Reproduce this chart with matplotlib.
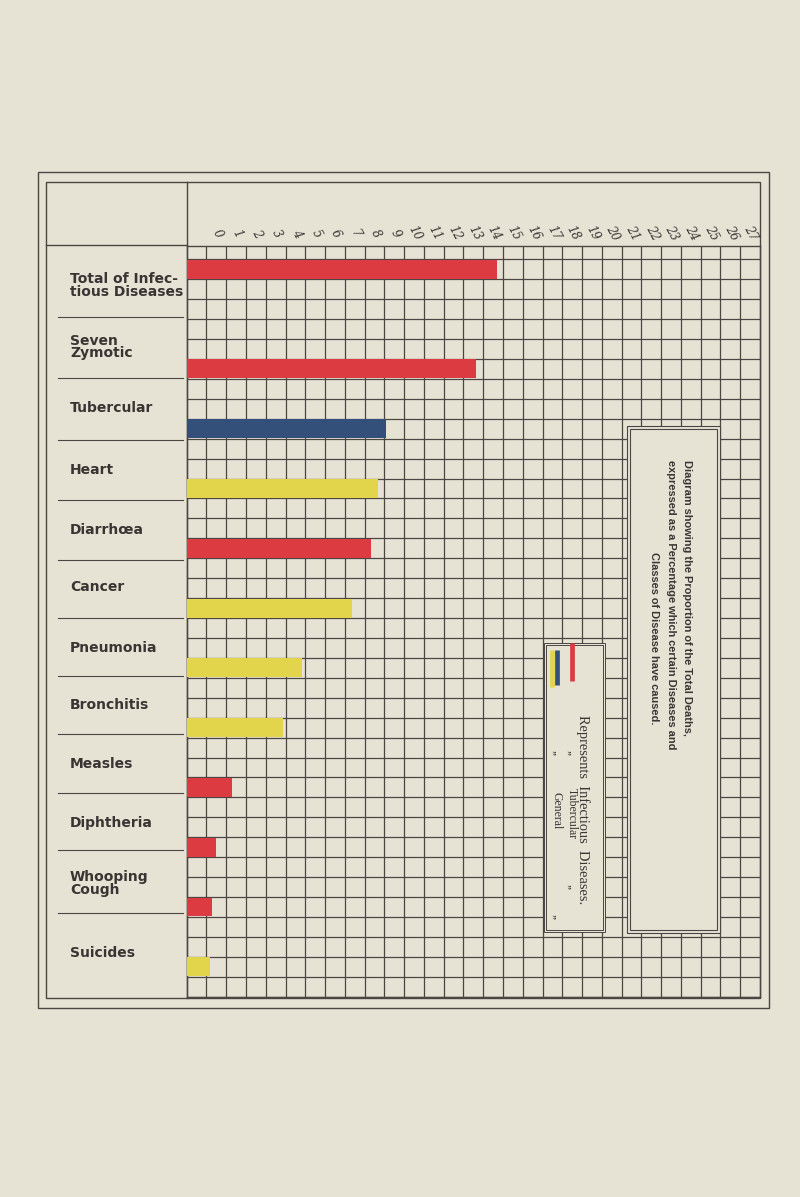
import numpy as np
import matplotlib
matplotlib.use('Agg')
import matplotlib.pyplot as plt
import matplotlib.transforms as mtransforms
from matplotlib.patches import Rectangle

# data (bar length in grid squares from the left edge)
categories = ['Total of Infec-\ntious Diseases', 'Seven\nZymotic', 'Tubercular', 'Heart',
              'Diarrhœa', 'Cancer', 'Pneumonia', 'Bronchitis', 'Measles', 'Diphtheria',
              'Whooping\nCough', 'Suicides']
bar_len = [15.70, 14.63, 10.10, 9.69, 9.31, 8.38, 5.82, 4.89, 2.31, 1.48, 1.26, 1.18]
classes = ['infectious', 'infectious', 'tubercular', 'general', 'infectious', 'general',
           'general', 'general', 'infectious', 'infectious', 'infectious', 'general']
tick_labels = [str(i) for i in range(28)]

# layout (grid rows counted from the bottom)
bar_rows = [36, 31, 28, 25, 22, 19, 16, 13, 10, 7, 4, 1]
label_y = [35.68, 32.6, 29.55, 26.43, 23.42, 20.54, 17.48, 14.64, 11.68, 8.7, 5.69, 2.18]
dividers = [34.1, 31.06, 27.93, 24.92, 21.9, 18.99, 16.09, 13.18, 10.24, 7.36, 4.21]

colors = {'infectious': '#dc3b41', 'tubercular': '#33507a', 'general': '#e2d54c'}
paper = '#e6e2d4'
ink = '#3a3533'
line = '#4b4643'

W, H = 800, 1197
fig = plt.figure(figsize=(8, 11.97), dpi=100, facecolor=paper)

# background axes in pixel coords for the frame
bg = fig.add_axes([0, 0, 1, 1])
bg.set_xlim(0, W)
bg.set_ylim(H, 0)
bg.axis('off')
bg.add_patch(Rectangle((38, 172), 731, 836, fill=False, ec=line, lw=1.0))
bg.add_patch(Rectangle((46, 182), 714, 816, fill=False, ec=line, lw=1.0))
bg.plot([186.7, 186.7], [182, 998], color=line, lw=1.0)
bg.plot([46, 186.7], [245, 245], color=line, lw=1.0)

# grid axes
gl, gr, gt, gb = 186.7, 760, 246, 996.7
ax = fig.add_axes([gl / W, (H - gb) / H, (gr - gl) / W, (gb - gt) / H])
ax.set_facecolor(paper)
ax.set_xlim(0, 29)
ax.set_ylim(0, 37.67)
ax.set_xticks(np.arange(0, 30))
ax.set_yticks(np.arange(0, 38))
ax.tick_params(length=0, labelbottom=False, labelleft=False)
ax.grid(True, color=line, lw=0.9)
ax.set_axisbelow(True)
for s in ax.spines.values():
    s.set_color(line)
    s.set_linewidth(1.0)

ax.barh([r + 0.5 for r in bar_rows], bar_len, height=0.95,
        color=[colors[c] for c in classes], zorder=3)

# number labels above the grid
for i, t in enumerate(tick_labels):
    ax.text(i + 1.55, 38.3, t, rotation=-62, ha='center', va='center',
            fontsize=8.5, style='italic', family='DejaVu Serif', color=ink, clip_on=False)

# category labels and dividers on the left panel
trans = mtransforms.blended_transform_factory(ax.transAxes, ax.transData)
for name, y in zip(categories, label_y):
    ax.text(-0.2036, y, name, transform=trans, ha='left', va='center',
            fontsize=10, fontweight='bold', color=ink, linespacing=0.9, clip_on=False)
for y in dividers:
    ax.plot([-0.2245, -0.0065], [y, y], transform=trans, color=line, lw=0.8, clip_on=False)

# title box
for (x0, y0, x1, y1) in [(22.29, 3.2, 26.98, 28.64), (22.42, 3.33, 26.85, 28.51)]:
    ax.add_patch(Rectangle((x0, y0), x1 - x0, y1 - y0, fc=paper, ec=line, lw=0.8, zorder=4))
title_lines = [('Diagram showing the Proportion of the Total Deaths,', 25.33, 26.93),
               ('expressed as a Percentage which certain Diseases and', 24.5, 26.93),
               ('Classes of Disease have caused.', 23.63, 22.33)]
for txt, x, y in title_lines:
    ax.text(x, y, txt, rotation=-90, ha='center', va='top', fontsize=7.9, fontweight='bold',
            family='Liberation Sans', color=ink, zorder=5)

# legend box
for (x0, y0, x1, y1) in [(18.07, 3.26, 21.15, 17.76), (18.17, 3.36, 21.05, 17.66)]:
    ax.add_patch(Rectangle((x0, y0), x1 - x0, y1 - y0, fc=paper, ec=line, lw=0.7, zorder=4))
for c, x, (y0, y1) in [('infectious', 19.47, (15.86, 17.75)),
                       ('tubercular', 18.74, (15.64, 17.4)),
                       ('general', 18.46, (15.56, 17.4))]:
    ax.plot([x, x], [y0, y1], color=colors[c], lw=3.4, solid_capstyle='butt', zorder=5)
leg_texts = [('Represents  Infectious  Diseases.', 20.05, 14.14, 'top', 10.4),
             (',,', 19.46, 12.21, 'center', 9), ('Tubercular', 19.46, 10.47, 'top', 8.5),
             (',,', 19.46, 5.52, 'center', 9),
             (',,', 18.71, 12.21, 'center', 9), ('General', 18.71, 10.29, 'top', 8.5),
             (',,', 18.71, 4.01, 'center', 9)]
for txt, x, y, va, fs in leg_texts:
    ax.text(x, y, txt, rotation=-90, ha='center', va=va, fontsize=fs,
            family='Liberation Serif', color=ink, zorder=5)

fig.savefig('out.png', dpi=100, facecolor=paper)
